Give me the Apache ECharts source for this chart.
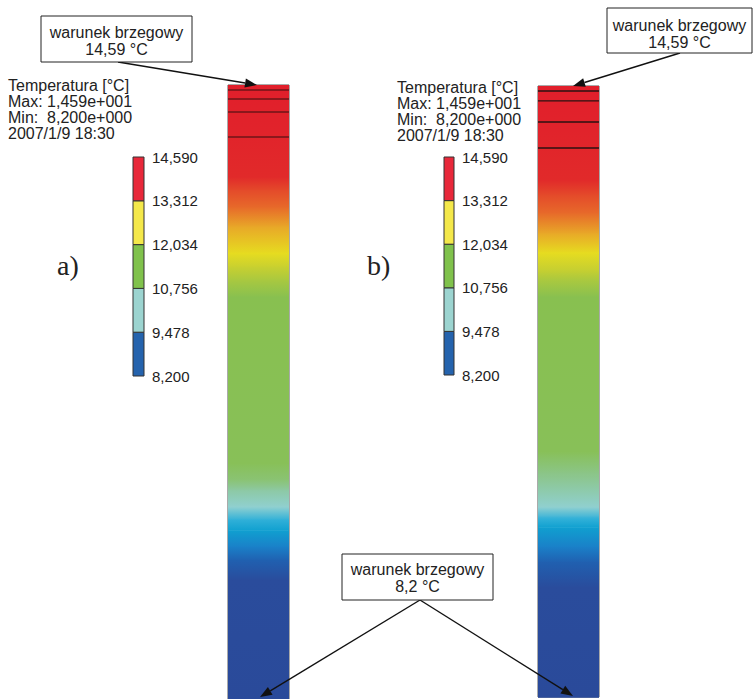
<!DOCTYPE html>
<html><head><meta charset="utf-8">
<script src="https://cdn.jsdelivr.net/npm/echarts@6/dist/echarts.min.js"></script>
<style>html,body{margin:0;padding:0;background:#fff}#c{width:753px;height:699px}</style>
</head><body><div id="c"></div>
<script>
// ---- data ----
const legendTicks = [8.2, 9.478, 10.756, 12.034, 13.312, 14.59];
const legendColors = ['#2563ad', '#9cd4d0', '#80c24c', '#f4e84a', '#e8283a'];

// column a) : relative depth [%] and temperature [°C]
const depthA = [0, 7.3, 15.0, 17.1, 19.9, 23.1, 27.4, 29.6, 31.8, 34.5, 48.0, 61.6, 64.3, 66.0, 68.7, 70.8, 72.5, 75.2, 77.4, 80.6, 90.2, 100];
const tempA  = [14.59, 14.4, 14.0, 13.8, 13.6, 13.2, 12.85, 12.5, 12.2, 11.8, 11.3, 10.9, 10.75, 10.5, 10.3, 10.0, 9.8, 9.5, 9.1, 8.7, 8.45, 8.2];
const meshA  = [0.81, 2.28, 4.40, 8.47];

// column b)
const depthB = [0, 7.2, 15.4, 17.8, 20.8, 24.1, 27.3, 30.6, 34.5, 48.1, 59.1, 63.3, 68.9, 70.5, 72.2, 75.4, 77.9, 82.0, 90.7, 100];
const tempB  = [14.59, 14.4, 14.0, 13.8, 13.6, 13.2, 12.85, 12.4, 11.8, 11.3, 10.95, 10.65, 10.3, 10.05, 9.8, 9.5, 9.1, 8.7, 8.45, 8.2];
const meshB  = [0.82, 2.45, 5.89, 10.15];

// ---- colour map (style) ----
const cmapT = [8.2, 8.7, 9.1, 9.5, 9.8, 10.0, 10.3, 10.6, 10.9, 11.8, 12.2, 12.5, 12.85, 13.2, 13.6, 14.0, 14.59];
const cmapC = ['#2a4a9a','#2a4c9c','#2060b0','#1a80c8','#10a0d0','#30b0d8','#90d0d0','#8cc690','#88c058','#88c050','#a8c840','#c8d030','#e6dc20','#e8a828','#e76a2a','#e12a2a','#e11f2b'];
function hex2rgb(h){return [parseInt(h.substr(1,2),16),parseInt(h.substr(3,2),16),parseInt(h.substr(5,2),16)];}
function cmap(t){
  if (t <= cmapT[0]) return cmapC[0];
  for (let i = 1; i < cmapT.length; i++) {
    if (t <= cmapT[i]) {
      const f = (t - cmapT[i-1]) / (cmapT[i] - cmapT[i-1]);
      const a = hex2rgb(cmapC[i-1]), b = hex2rgb(cmapC[i]);
      return 'rgb(' + a.map((v,k)=>Math.round(v + (b[k]-v)*f)).join(',') + ')';
    }
  }
  return cmapC[cmapC.length-1];
}
function segs(depth, temp){return depth.slice(0,-1).map((d,i)=>[d, depth[i+1], temp[i], temp[i+1]]);}

function colRender(params, api){
  const d0 = api.value(0), d1 = api.value(1), t0 = api.value(2), t1 = api.value(3);
  const p0 = api.coord([0, d0]), p1 = api.coord([1, d1]);
  const stops = [{offset:0, color:cmap(t0)}];
  cmapT.forEach((t,i)=>{ if ((t-t0)*(t-t1) < 0) stops.push({offset:(t0-t)/(t0-t1), color:cmapC[i]}); });
  stops.push({offset:1, color:cmap(t1)});
  stops.sort((a,b)=>a.offset-b.offset);
  return {type:'rect', shape:{x:p0[0], y:p0[1], width:p1[0]-p0[0], height:p1[1]-p0[1]+0.7},
    style:{fill:{type:'linear', x:0, y:0, x2:0, y2:1, colorStops:stops}}};
}
function meshRender(color, width){
  return function(params, api){
    const d = api.value(0);
    const a = api.coord([0, d]), b = api.coord([1, d]);
    return {type:'line', shape:{x1:a[0], y1:a[1], x2:b[0], y2:b[1]}, style:{stroke:color, lineWidth:width}};
  };
}
function legRender(params, api){
  const lo = api.value(0), hi = api.value(1), idx = api.value(2);
  const a = api.coord([0, hi]), b = api.coord([1, lo]);
  return {type:'rect', shape:{x:a[0], y:a[1], width:b[0]-a[0], height:b[1]-a[1]},
    style:{fill:legendColors[idx], stroke:'#333', lineWidth:1}};
}

const FONT = 'Liberation Sans, Arial, sans-serif';
const hiddenX = (g)=>({gridIndex:g, type:'value', min:0, max:1, show:false});
const colY = (g)=>({gridIndex:g, type:'value', min:0, max:100, inverse:true, show:false});
const legY = (g)=>({gridIndex:g, type:'value', min:8.2, max:14.59, position:'right',
  axisLine:{show:false}, axisTick:{show:false}, splitLine:{show:false},
  axisLabel:{customValues:legendTicks, formatter:(v)=>v.toFixed(3).replace('.', ','), margin:8,
    fontSize:15, color:'#222', fontFamily:FONT}});

function arrow(x1,y1,x2,y2){
  const ang = Math.atan2(y2-y1, x2-x1), L = 12, W = 4.5;
  const bx = x2 - L*Math.cos(ang), by = y2 - L*Math.sin(ang);
  const px = -Math.sin(ang)*W, py = Math.cos(ang)*W;
  return [
    {type:'line', z:100, shape:{x1:x1, y1:y1, x2:bx, y2:by}, style:{stroke:'#111', lineWidth:1.4}},
    {type:'polygon', z:100, shape:{points:[[x2,y2],[bx+px,by+py],[bx-px,by-py]]}, style:{fill:'#111'}}
  ];
}
function box(x,y,w,h,lines,cy){
  return [
    {type:'rect', z:101, shape:{x:x, y:y, width:w, height:h}, style:{fill:'#fff', stroke:'#222', lineWidth:1}},
    {type:'text', z:102, x:x+w/2, y:cy, style:{text:lines, font:'16px '+FONT, fill:'#222', align:'center', verticalAlign:'middle', lineHeight:17}}
  ];
}
const infoText = 'Temperatura [°C]\nMax: 1,459e+001\nMin:  8,200e+000\n2007/1/9 18:30';

const chart = echarts.init(document.getElementById('c'), null, {renderer:'svg'});
chart.setOption({
  backgroundColor:'#fff',
  animation:false,
  grid:[
    {left:228, top:85, width:61, height:614, show:true, borderColor:'#555', borderWidth:1, backgroundColor:'transparent'},
    {left:538, top:86, width:61, height:611, show:true, borderColor:'#555', borderWidth:1, backgroundColor:'transparent'},
    {left:133, top:157, width:11, height:219},
    {left:444, top:157, width:10, height:218}
  ],
  xAxis:[hiddenX(0), hiddenX(1), hiddenX(2), hiddenX(3)],
  yAxis:[colY(0), colY(1), legY(2), legY(3)],
  series:[
    {type:'custom', xAxisIndex:0, yAxisIndex:0, renderItem:colRender, data:segs(depthA,tempA), silent:true, z:1},
    {type:'custom', xAxisIndex:0, yAxisIndex:0, renderItem:meshRender('#6e1418',1.6), data:meshA.map(d=>[d]), silent:true, z:2},
    {type:'custom', xAxisIndex:1, yAxisIndex:1, renderItem:colRender, data:segs(depthB,tempB), silent:true, z:1},
    {type:'custom', xAxisIndex:1, yAxisIndex:1, renderItem:meshRender('#2b1212',1.3), data:meshB.map(d=>[d]), silent:true, z:2},
    {type:'custom', xAxisIndex:2, yAxisIndex:2, renderItem:legRender, data:legendTicks.slice(0,-1).map((t,i)=>[t, legendTicks[i+1], i]), silent:true},
    {type:'custom', xAxisIndex:3, yAxisIndex:3, renderItem:legRender, data:legendTicks.slice(0,-1).map((t,i)=>[t, legendTicks[i+1], i]), silent:true}
  ],
  graphic:[].concat(
    [{type:'text', x:8, y:77, style:{text:infoText, font:'16px '+FONT, fill:'#222', lineHeight:16, verticalAlign:'top'}},
     {type:'text', x:397, y:79, style:{text:infoText, font:'16px '+FONT, fill:'#222', lineHeight:16, verticalAlign:'top'}},
     {type:'text', x:57, y:265, style:{text:'a)', font:'28px Liberation Serif, Times New Roman, serif', fill:'#222', verticalAlign:'middle'}},
     {type:'text', x:367, y:265, style:{text:'b)', font:'28px Liberation Serif, Times New Roman, serif', fill:'#222', verticalAlign:'middle'}}],
    arrow(118, 62, 257, 85),
    arrow(680, 53, 573, 86),
    arrow(420, 600, 260, 697),
    arrow(420, 600, 573, 696),
    box(41, 16, 151, 46, 'warunek brzegowy\n14,59 °C', 41),
    box(607, 8, 145, 45, 'warunek brzegowy\n14,59 °C', 34),
    box(342, 554, 151, 46, 'warunek brzegowy\n8,2 °C', 578)
  )
});
</script></body></html>
